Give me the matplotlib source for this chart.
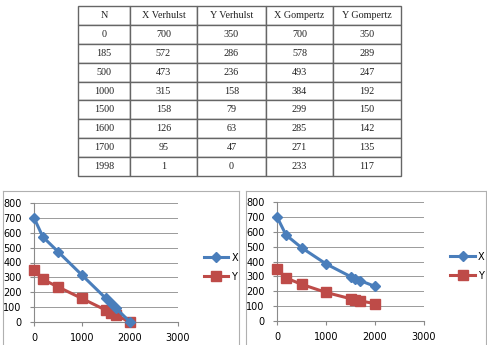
import matplotlib.pyplot as plt
import numpy as np

# table data
n_vals = [0, 185, 500, 1000, 1500, 1600, 1700, 1998]
x_verhulst = [700, 572, 473, 315, 158, 126, 95, 1]
y_verhulst = [350, 286, 236, 158, 79, 63, 47, 0]
x_gompertz = [700, 578, 493, 384, 299, 285, 271, 233]
y_gompertz = [350, 289, 247, 192, 150, 142, 135, 117]
headers = ["N", "X Verhulst", "Y Verhulst", "X Gompertz", "Y Gompertz"]

W, H = 487, 345
fig = plt.figure(figsize=(W / 100, H / 100), dpi=100)
fig.patch.set_facecolor("white")


def box(x0, y0, x1, y1):
    # pixel box (top-left origin) -> figure coords
    return [x0 / W, 1 - y1 / H, (x1 - x0) / W, (y1 - y0) / H]


# --- table ---
tax = fig.add_axes(box(78, 6, 401, 176))
tax.axis("off")
rows = [[str(v) for v in r] for r in zip(n_vals, x_verhulst, y_verhulst, x_gompertz, y_gompertz)]
widths = np.array([52, 67, 69, 67, 68], dtype=float)
tbl = tax.table(cellText=rows, colLabels=headers, colWidths=list(widths / widths.sum()),
                cellLoc="center", bbox=[0, 0, 1, 1])
tbl.auto_set_font_size(False)
for (r, c), cell in tbl.get_celld().items():
    cell.set_edgecolor("#666666")
    cell.set_linewidth(1.0)
    cell.get_text().set_fontsize(7.3)
    cell.get_text().set_fontfamily("Liberation Serif")
    cell.get_text().set_color("#222222")

blue = "#4A7EBB"
red = "#BE4B48"


def chart(frame, area, xs, ys, legend_pos):
    fax = fig.add_axes(box(*frame))
    fax.set_xticks([])
    fax.set_yticks([])
    for s in fax.spines.values():
        s.set_color("#b0b0b0")
        s.set_linewidth(0.8)

    ax = fig.add_axes(box(*area))
    ax.plot(n_vals, xs, color=blue, lw=2.2, marker="D", ms=5, label="X", clip_on=False, zorder=4)
    ax.plot(n_vals, ys, color=red, lw=2.2, marker="s", ms=6.5, label="Y", clip_on=False, zorder=3)
    ax.set_xlim(0, 3000)
    ax.set_ylim(0, 800)
    ax.set_xticks([0, 1000, 2000, 3000])
    ax.set_yticks(range(0, 801, 100))
    ax.grid(axis="y", color="#9a9a9a", lw=0.7)
    ax.set_axisbelow(True)
    for s in ["top", "right"]:
        ax.spines[s].set_visible(False)
    for s in ["left", "bottom"]:
        ax.spines[s].set_color("#8a8a8a")
        ax.spines[s].set_linewidth(0.8)
    ax.tick_params(labelsize=7, length=3, color="#8a8a8a")
    ax.tick_params(axis="y", pad=6)
    ax.tick_params(axis="x", pad=5)
    for lab in ax.get_xticklabels() + ax.get_yticklabels():
        lab.set_fontfamily("DejaVu Sans")
    ax.legend(loc="center left", bbox_to_anchor=legend_pos, frameon=False,
              fontsize=7, handlelength=2.5, labelspacing=0.9, handletextpad=0.3)


chart((3, 191, 239, 360), (34, 203, 178, 322), x_verhulst, y_verhulst, (1.12, 0.46))
chart((246, 191, 486, 360), (277, 202, 424, 321), x_gompertz, y_gompertz, (1.12, 0.46))

fig.savefig("out.png", dpi=100)
